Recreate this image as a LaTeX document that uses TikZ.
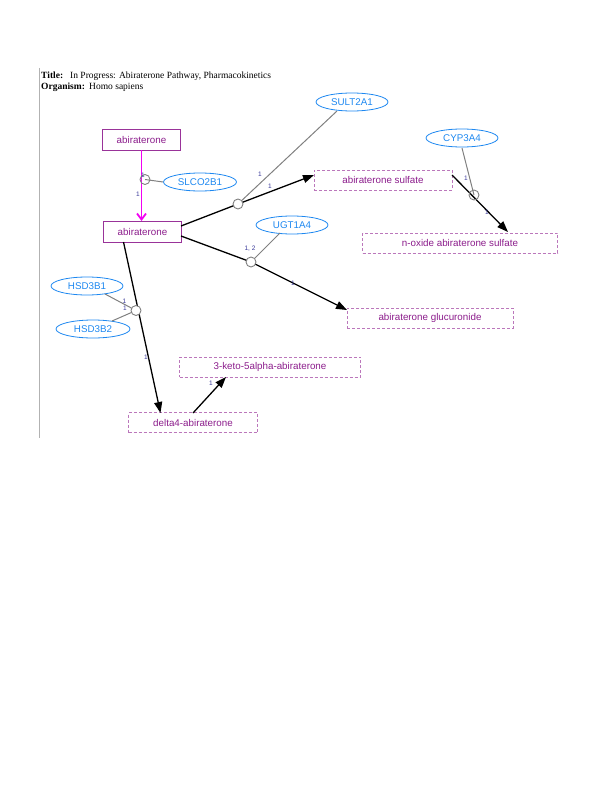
\documentclass[tikz,border=0pt]{standalone}
\usepackage{fontspec}
\setmainfont{Liberation Serif}
\setsansfont{Liberation Sans}
\usetikzlibrary{arrows.meta,shapes.geometric}
\definecolor{boxpurple}{HTML}{993399}
\definecolor{dashpurple}{HTML}{BB77BB}
\definecolor{txtpurple}{HTML}{8B1C8B}
\definecolor{geneblue}{HTML}{1E88F0}
\definecolor{lblblue}{HTML}{3A3A9A}
\definecolor{magentaline}{rgb}{0.95,0,0.95}
\tikzset{
  metab/.style={draw=boxpurple, line width=1pt, text=txtpurple, font=\sffamily\fontsize{9.8}{10}\selectfont, inner sep=0pt, minimum height=20pt},
  metabd/.style={metab, draw=dashpurple, line width=0.8pt, dashed, dash pattern=on 3pt off 2pt},
  gene/.style={ellipse, draw=geneblue, line width=0.8pt, text=geneblue, font=\sffamily\fontsize{9.8}{10}\selectfont, inner sep=0pt, minimum height=18pt, minimum width=72pt},
  rxcirc/.style={circle, draw=gray, fill=white, line width=0.9pt, minimum size=10pt, inner sep=0pt},
  catline/.style={draw=gray, line width=1pt},
  rxline/.style={draw=black, line width=1.3pt},
  rxarrow/.style={rxline, -{Triangle[length=11pt,width=8pt]}},
  transp/.style={draw=magentaline, line width=1.8pt, -{Straight Barb[length=6pt,width=9pt]}},
  lbl/.style={text=lblblue, font=\sffamily\fontsize{6.5}{6.5}\selectfont, inner sep=0pt},
  ttl/.style={anchor=base west, font=\fontsize{9.5}{10}\selectfont, inner sep=0pt}
}
\begin{document}
\begin{tikzpicture}[x=1pt,y=-1pt]
\useasboundingbox (0,0) rectangle (612,792);
% frame line and title
\draw[gray!60, line width=1pt] (39.5,68) -- (39.5,438);
\node[ttl] (t1) at (41,78) {\textbf{Title:}};
\node[ttl] (t2) at (70,78) {In Progress: Abiraterone Pathway, Pharmacokinetics};
\node[ttl] (o1) at (41,89) {\textbf{Organism:}};
\node[ttl] (o2) at (89,89) {Homo sapiens};

% metabolites
\node[metab, minimum width=78pt, minimum height=21pt] (abi1) at (141.5,139.5) {abiraterone};
\node[metab, minimum width=78pt, minimum height=21pt] (abi2) at (142.5,231.5) {abiraterone};
\node[metabd, minimum width=138pt] (sulf) at (383,180) {abiraterone sulfate};
\node[metabd, minimum width=195pt] (noxide) at (460,243) {n-oxide abiraterone sulfate};
\node[metabd, minimum width=166pt] (gluc) at (430,318) {abiraterone glucuronide};
\node[metabd, minimum width=181pt] (keto) at (270,367) {3-keto-5alpha-abiraterone};
\node[metabd, minimum width=129pt] (delta) at (193,422.5) {delta4-abiraterone};

% genes
\node[gene, minimum width=73pt] (slco) at (200,182) {SLCO2B1};
\node[gene] (sult) at (352,102) {SULT2A1};
\node[gene] (cyp) at (462,138) {CYP3A4};
\node[gene] (ugt) at (292,225) {UGT1A4};
\node[gene] (hsd1) at (87,286) {HSD3B1};
\node[gene, minimum width=74pt] (hsd2) at (93,329) {HSD3B2};

% reaction anchor points
\coordinate (a1s) at (141.5,150);
\coordinate (a2e) at (141.5,221);
\coordinate (a2r1) at (181,226);
\coordinate (sulfin) at (314,175);
\coordinate (sulfout) at (452,175);
\coordinate (noxin) at (508,232);
\coordinate (a2r2) at (181,236);
\coordinate (glucin) at (347,310);
\coordinate (a2b) at (123.5,242);
\coordinate (deltain) at (160.5,413);
\coordinate (deltaout) at (193,413);
\coordinate (ketoin) at (226,377);
\coordinate (sultb) at (337,111);
\coordinate (cypb) at (462,148);
\coordinate (ugtb) at (280,233);
\coordinate (hsd1b) at (105,294);
\coordinate (hsd2t) at (112,321);

% transport abiraterone -> abiraterone (magenta)
\draw[transp] (a1s) -- (a2e);
\node[rxcirc, draw=none, fill=none] (c0) at (145,179.5) {};
\draw[catline] (slco.west) -- (c0.center);
\node[rxcirc, fill=none] at (c0) {};

% sulfation
\node[rxcirc, draw=none, fill=none] (c1) at (238,204) {};
\draw[rxline] (a2r1) -- (c1.center);
\draw[rxarrow] (c1.center) -- (sulfin);
\draw[catline] (sultb) -- (c1.center);
\node[rxcirc] at (c1) {};

% n-oxidation
\draw[rxarrow] (sulfout) -- (noxin);
\node[rxcirc, fill=none] (c2) at (474,195) {};
\draw[catline] (cypb) -- (c2.center);

% glucuronidation
\node[rxcirc, draw=none, fill=none] (c3) at (251,262) {};
\draw[rxline] (a2r2) -- (c3.center);
\draw[rxarrow] (c3.center) -- (glucin);
\draw[catline] (ugtb) -- (c3.center);
\node[rxcirc] at (c3) {};

% HSD3B
\draw[rxarrow] (a2b) -- (deltain);
\node[rxcirc, draw=none, fill=none] (c4) at (136,310.5) {};
\draw[catline] (hsd1b) -- (c4.center);
\draw[catline] (hsd2t) -- (c4.center);
\node[rxcirc] at (c4) {};

% delta4 -> 3-keto
\draw[rxarrow] (deltaout) -- (ketoin);

% labels
\node[lbl] (l1) at (143,175) {1};
\node[lbl] (l2) at (138,194) {1};
\node[lbl] (l3) at (260,174) {1};
\node[lbl] (l4) at (270,186) {1};
\node[lbl] (l5) at (466,178) {1};
\node[lbl] (l6) at (487,212) {1};
\node[lbl] (l7) at (250,249) {1, 2};
\node[lbl] (l8) at (293,283) {1};
\node[lbl] (l9) at (124.5,301.5) {1};
\node[lbl] (l10) at (125,308) {1};
\node[lbl] (l11) at (146,357) {1};
\node[lbl] (l12) at (211,383) {1};
\end{tikzpicture}
\end{document}
